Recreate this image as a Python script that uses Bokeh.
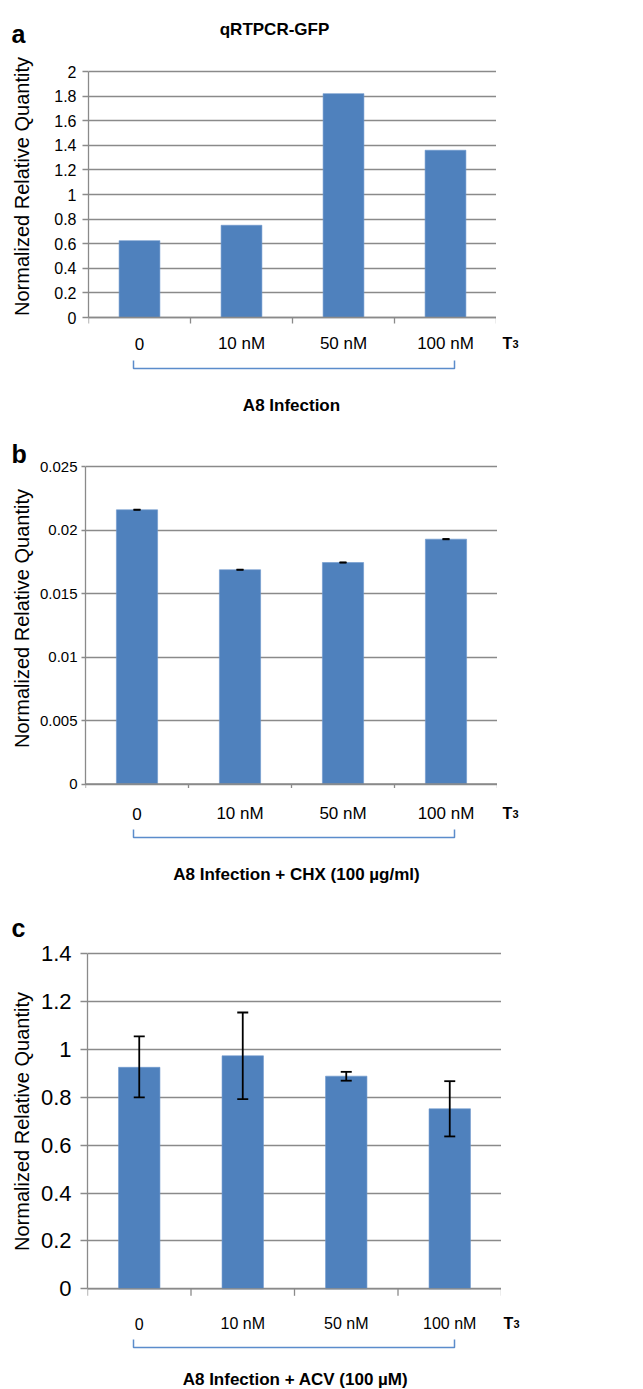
import math
from bokeh.plotting import figure
from bokeh.models import FixedTicker, CustomJSTickFormatter, Range1d
from bokeh.layouts import column, row
from bokeh.core.properties import value
from bokeh.embed import file_html
from bokeh.resources import INLINE

# ---------------- data ----------------
categories = ["0", "10 nM", "50 nM", "100 nM"]

gfp_values = [0.625, 0.75, 1.82, 1.36]
gfp_ticks = [0, 0.2, 0.4, 0.6, 0.8, 1, 1.2, 1.4, 1.6, 1.8, 2]

chx_values = [0.02159, 0.01687, 0.01744, 0.01928]
chx_err = [0.00002, 0.00002, 0.00002, 0.00002]
chx_ticks = [0, 0.005, 0.01, 0.015, 0.02, 0.025]

acv_values = [0.926, 0.974, 0.889, 0.7525]
acv_err_low = [0.80, 0.793, 0.870, 0.637]
acv_err_high = [1.055, 1.155, 0.907, 0.868]
acv_ticks = [0, 0.2, 0.4, 0.6, 0.8, 1, 1.2, 1.4]

panel_titles = ["A8 Infection", "A8 Infection + CHX (100 \u00b5g/ml)", "A8 Infection + ACV (100 \u00b5M)"]
panel_letters = ["a", "b", "c"]
main_title = "qRTPCR-GFP"
y_label = "Normalized Relative Quantity"

# ---------------- style ----------------
FONT = "Liberation Sans"
BLUE = "#4F81BD"
GRID = "#8a8a8a"
BRACKET = "#5B8CCB"
PAGE_W = 643
LW = 36  # width of left strip holding panel letter and y label


def bare_fig(width, height, x0, x1, y0, y1):
    f = figure(width=width, height=height, output_backend="svg", toolbar_location=None,
               x_range=Range1d(x0, x1), y_range=Range1d(y0, y1),
               x_axis_location=None, y_axis_location=None,
               min_border_left=0, min_border_right=0, min_border_top=0, min_border_bottom=0)
    f.outline_line_color = None
    f.xgrid.visible = False
    f.ygrid.visible = False
    return f


def make_panel(top, bottom, left, right, zero_px, ppu, ticks, values, tick_size,
               tick_standoff, tick_out, cat_size, cat_base, bracket_y, title, title_x,
               title_base, letter, letter_base, ylab_center, err_lo=None, err_hi=None,
               cap_px=11, err_w=1.8, draw_vert=True, t3_x=502):
    H = bottom - top
    xpu = (right - left) / 4.0

    def X(px):
        return -0.5 + (px - left) / xpu

    def Y(py):
        return (zero_px - py) / ppu

    p = figure(width=right - LW, height=H, output_backend="svg", toolbar_location=None,
               x_range=Range1d(-0.5, 3.5), y_range=Range1d(Y(bottom), Y(top)),
               x_axis_location=None,
               min_border_left=left - LW, min_border_right=0,
               min_border_top=0, min_border_bottom=0)
    p.outline_line_color = None
    p.xgrid.visible = False
    p.ygrid.ticker = FixedTicker(ticks=ticks)
    p.ygrid.grid_line_color = GRID
    p.ygrid.grid_line_width = 1.3
    ax = p.yaxis[0]
    ax.ticker = FixedTicker(ticks=ticks)
    ax.formatter = CustomJSTickFormatter(code="return String(tick);")
    ax.bounds = (0, ticks[-1])
    ax.axis_line_color = GRID
    ax.axis_line_width = 1.3
    ax.major_tick_line_color = GRID
    ax.major_tick_line_width = 1.3
    ax.major_tick_in = 0
    ax.major_tick_out = tick_out
    ax.minor_tick_line_color = None
    ax.major_label_text_font = FONT
    ax.major_label_text_font_size = f"{tick_size}px"
    ax.major_label_text_color = "black"
    ax.major_label_standoff = tick_standoff

    idx = list(range(len(categories)))
    p.vbar(x=idx, top=values, bottom=0, width=0.4, fill_color=BLUE,
           line_color="#6d97cc", line_width=0.6)

    # error bars
    if err_lo is not None:
        half = (cap_px / 2.0) / xpu
        if draw_vert:
            p.segment(x0=idx, y0=err_lo, x1=idx, y1=err_hi, line_color="black", line_width=err_w)
        p.segment(x0=[i - half for i in idx], y0=err_hi, x1=[i + half for i in idx], y1=err_hi,
                  line_color="black", line_width=err_w)
        p.segment(x0=[i - half for i in idx], y0=err_lo, x1=[i + half for i in idx], y1=err_lo,
                  line_color="black", line_width=err_w)

    # category axis line and tick marks
    edges = [i - 0.5 for i in range(len(categories) + 1)]
    p.segment(x0=[-0.5], y0=[0], x1=[3.5], y1=[0], line_color=GRID, line_width=1.3)
    p.segment(x0=edges, y0=[0] * len(edges), x1=edges, y1=[Y(zero_px + tick_out)] * len(edges),
              line_color=GRID, line_width=1.3)

    # category labels
    p.text(x=idx, y=[Y(cat_base)] * len(idx), text=categories,
           text_font=value(FONT), text_font_size=f"{cat_size}px",
           text_align="center", text_baseline="alphabetic", text_color="black")

    # bracket
    bx0, bx1 = X(133), X(454)
    p.line(x=[bx0, bx0, bx1, bx1], y=[Y(bracket_y - 8), Y(bracket_y), Y(bracket_y), Y(bracket_y - 8)],
           line_color=BRACKET, line_width=1.5)

    # title under bracket
    p.text(x=[X(title_x)], y=[Y(title_base)], text=[title], text_font=value(FONT),
           text_font_style="bold", text_font_size="17px",
           text_align="center", text_baseline="alphabetic", text_color="black")

    # left strip: panel letter + y label (x in page px, y measured up from strip bottom)
    ls = bare_fig(LW, H, 0, LW, 0, H)
    ls.text(x=[11], y=[bottom - letter_base], text=[letter], text_font=value(FONT),
            text_font_style="bold", text_font_size="25px",
            text_align="left", text_baseline="alphabetic", text_color="black")
    ls.text(x=[21], y=[bottom - ylab_center], text=[y_label], text_font=value(FONT),
            text_font_size="20px", angle=math.pi / 2,
            text_align="center", text_baseline="middle", text_color="black")

    # right strip: T3 label
    rs = bare_fig(PAGE_W - right, H, right, PAGE_W, 0, H)
    rs.text(x=[t3_x], y=[bottom - cat_base], text=["T"], text_font=value(FONT),
            text_font_style="bold", text_font_size="16px",
            text_align="left", text_baseline="alphabetic", text_color="black")
    rs.text(x=[t3_x + 10], y=[bottom - cat_base], text=["3"], text_font=value(FONT),
            text_font_style="bold", text_font_size="11px",
            text_align="left", text_baseline="alphabetic", text_color="black")
    return p, ls, rs, X, Y


pa, la, ra, Xa, Ya = make_panel(top=0, bottom=420, left=88, right=496, zero_px=317, ppu=123,
                                ticks=gfp_ticks, values=gfp_values, tick_size=16, tick_standoff=6,
                                tick_out=6, cat_size=17, cat_base=343, bracket_y=368,
                                title=panel_titles[0], title_x=291, title_base=405,
                                letter=panel_letters[0], letter_base=33, ylab_center=186)
pa.text(x=[Xa(274)], y=[Ya(29)], text=[main_title], text_font=value(FONT),
        text_font_style="bold", text_font_size="17px",
        text_align="center", text_baseline="alphabetic", text_color="black")

pb, lb, rb, Xb, Yb = make_panel(top=420, bottom=890, left=85, right=497, zero_px=783.5, ppu=12700,
                                ticks=chx_ticks, values=chx_values, tick_size=15, tick_standoff=4,
                                tick_out=4, cat_size=17, cat_base=813, bracket_y=837,
                                title=panel_titles[1], title_x=296, title_base=874,
                                letter=panel_letters[1], letter_base=453, ylab_center=618,
                                err_lo=[v - e for v, e in zip(chx_values, chx_err)],
                                err_hi=[v + e for v, e in zip(chx_values, chx_err)],
                                cap_px=7, err_w=1.6, draw_vert=False)

pc, lc, rc, Xc, Yc = make_panel(top=890, bottom=1389, left=87, right=501, zero_px=1288.3, ppu=239.2,
                                ticks=acv_ticks, values=acv_values, tick_size=22, tick_standoff=9,
                                tick_out=7, cat_size=16, cat_base=1323, bracket_y=1347,
                                title=panel_titles[2], title_x=295, title_base=1379,
                                letter=panel_letters[2], letter_base=927, ylab_center=1121,
                                err_lo=acv_err_low, err_hi=acv_err_high, cap_px=11, err_w=1.8,
                                draw_vert=True, t3_x=503)

layout = column(row(la, pa, ra), row(lb, pb, rb), row(lc, pc, rc))
open("out.html", "w").write(file_html(layout, INLINE, "qRTPCR-GFP"))
